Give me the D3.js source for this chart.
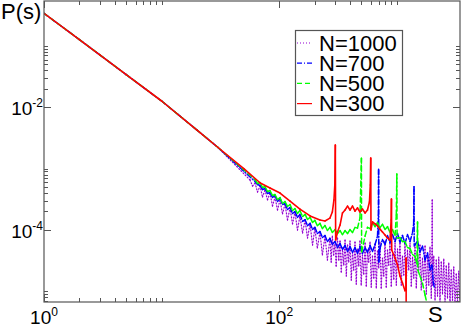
<!DOCTYPE html>
<html><head><meta charset="utf-8">
<script src="https://cdn.jsdelivr.net/npm/d3@7"></script>
<style>body{margin:0;background:#fff}svg{display:block}text{font-family:"Liberation Sans",Arial,Helvetica,sans-serif}</style>
</head><body><svg id="c" width="461" height="327"></svg>
<script>
// ---- data: [s, P(s)] ----
const head = [[1, 0.341], [2, 0.127], [3, 0.0711], [5, 0.0341], [10, 0.01267], [20, 4.25e-3], [30, 2.23e-3], [50, 1.0e-3]];

const tail300 = [[69, 5.82e-4], [83.5, 4.83e-4], [101.6, 4.0e-4], [123.6, 2.96e-4], [150, 2.19e-4], [183, 1.69e-4], [222, 1.45e-4], [245, 1.40e-4], [270, 1.56e-4], [283, 1.96e-4],
  [292, 3.08e-4], [297, 5.40e-4], [300, 2.43e-3], [302, 6.84e-5], [313, 9.24e-5], [329, 1.20e-4], [345, 1.89e-4], [363, 2.11e-4], [381, 2.45e-4], [400, 2.11e-4],
  [420, 2.45e-4], [441, 2.03e-4], [463, 2.28e-4], [486, 1.96e-4], [510, 2.19e-4], [537, 1.89e-4], [563, 2.11e-4], [585, 2.85e-4], [595, 5.40e-4], [600, 1.49e-3],
  [603, 9.96e-5], [621, 1.35e-4], [653, 1.25e-4], [685, 1.16e-4], [719, 1.03e-4], [755, 9.24e-5], [794, 8.26e-5], [833, 7.38e-5], [875, 6.84e-5], [895, 1.45e-4],
  [900, 3.19e-4], [905, 4.70e-5], [966, 3.48e-5], [1014, 2.67e-5], [1064, 1.77e-5], [1117, 1.36e-5], [1174, 1.02e-5], [1195, 1.05e-5], [1200, 3.48e-5], [1202, 1e-7]];

const tail500 = [[62.3, 6.64e-4], [65.4, 5.71e-4], [68.7, 5.93e-4], [72.1, 4.92e-4], [75.7, 5.10e-4], [79.5, 4.23e-4], [83.5, 4.39e-4], [87.7, 3.64e-4], [92.1, 3.78e-4], [96.7, 3.13e-4],
  [101.6, 3.37e-4], [106.7, 2.70e-4], [112, 2.91e-4], [117.6, 2.41e-4], [123.6, 2.60e-4], [129.8, 2.07e-4], [136, 2.23e-4], [143, 1.85e-4], [150, 2.07e-4], [158, 1.65e-4],
  [166, 1.79e-4], [174, 1.48e-4], [183, 1.60e-4], [192, 1.32e-4], [201, 1.43e-4], [211, 1.17e-4], [222, 1.28e-4], [233, 1.05e-4], [245, 1.18e-4], [257, 9.78e-5],
  [270, 1.10e-4], [283, 9.07e-5], [298, 1.01e-4], [313, 8.74e-5], [329, 9.73e-5], [345, 8.40e-5], [363, 9.73e-5], [381, 8.74e-5], [400, 1.01e-4], [420, 9.07e-5],
  [441, 1.10e-4], [463, 1.07e-4], [486, 1.56e-4], [500, 1.48e-3], [502, 4.36e-5], [537, 7.94e-5], [563, 1.10e-4], [592, 1.05e-4], [621, 1.32e-4], [653, 1.13e-4],
  [685, 1.32e-4], [719, 1.09e-4], [755, 1.23e-4], [794, 1.02e-4], [833, 1.13e-4], [875, 9.07e-5], [919, 1.01e-4], [966, 8.10e-5], [990, 1.75e-4], [1000, 8.17e-4],
  [1005, 7.38e-5], [1064, 7.50e-5], [1117, 6.46e-5], [1174, 6.46e-5], [1232, 5.16e-5], [1295, 4.97e-5], [1360, 3.97e-5], [1429, 3.70e-5], [1480, 2.78e-5], [1500, 1.35e-4],
  [1510, 2.22e-5], [1574, 1.77e-5], [1653, 1.36e-5], [1738, 8.67e-6], [1824, 5.74e-6]];

const tail700 = [[62.3, 6.16e-4], [65.4, 5.50e-4], [68.7, 5.30e-4], [72.1, 4.56e-4], [75.7, 4.73e-4], [79.5, 3.93e-4], [83.5, 4.07e-4], [87.7, 3.38e-4], [92.1, 3.64e-4], [96.7, 2.91e-4],
  [101.6, 3.25e-4], [106.7, 2.59e-4], [112, 2.69e-4], [117.6, 2.15e-4], [123.6, 2.32e-4], [129.8, 1.85e-4], [136, 1.99e-4], [143, 1.60e-4], [150, 1.79e-4], [158, 1.38e-4],
  [166, 1.47e-4], [174, 1.17e-4], [183, 1.28e-4], [192, 1.02e-4], [201, 1.10e-4], [211, 8.74e-5], [222, 9.41e-5], [233, 7.52e-5], [245, 8.10e-5], [257, 6.46e-5],
  [270, 7.24e-5], [283, 5.78e-5], [298, 6.46e-5], [313, 5.16e-5], [329, 6.00e-5], [345, 4.79e-5], [363, 5.57e-5], [381, 4.44e-5], [400, 5.36e-5], [420, 4.28e-5],
  [441, 5.16e-5], [463, 4.13e-5], [486, 5.36e-5], [510, 4.13e-5], [537, 5.16e-5], [563, 4.28e-5], [592, 5.57e-5], [621, 4.44e-5], [653, 5.77e-5], [685, 7.94e-5],
  [697, 1.75e-4], [700, 9.75e-4], [703, 2.99e-5], [719, 4.97e-5], [755, 6.97e-5], [794, 5.78e-5], [833, 8.10e-5], [875, 6.23e-5], [919, 8.40e-5], [966, 6.46e-5],
  [1014, 8.73e-5], [1064, 6.23e-5], [1117, 8.10e-5], [1174, 6.00e-5], [1232, 8.40e-5], [1295, 6.46e-5], [1360, 9.07e-5], [1390, 1.25e-4], [1400, 5.07e-4], [1405, 5.46e-5],
  [1500, 6.59e-5], [1574, 4.36e-5], [1653, 5.46e-5], [1738, 3.23e-5], [1824, 4.20e-5], [1915, 2.22e-5], [1990, 2.67e-5], [2043, 1.41e-5], [2084, 1.13e-5]];

const tail1000 = [[56.5, 6.52e-4], [59.3, 5.20e-4], [62.3, 5.82e-4], [65.4, 4.15e-4], [68.7, 5.20e-4], [72.1, 3.44e-4], [75.7, 4.48e-4], [79.5, 3.08e-4], [83.5, 4.0e-4], [87.7, 2.45e-4],
  [92.1, 3.44e-4], [96.7, 2.11e-4], [101.6, 3.08e-4], [106.7, 1.82e-4], [112, 2.65e-4], [117.6, 1.45e-4], [123.6, 2.28e-4], [129.8, 1.25e-4], [136, 1.96e-4], [143, 9.96e-5],
  [150, 1.69e-4], [158, 8.89e-5], [166, 1.45e-4], [174, 7.38e-5], [183, 1.25e-4], [192, 5.67e-5], [201, 1.07e-4], [211, 5.07e-5], [222, 9.24e-5], [233, 3.90e-5],
  [245, 7.94e-5], [257, 3.23e-5],
  [270, 7.38e-5], [276.7, 2.99e-5], [283, 7.95e-5], [290, 3.90e-5], [298, 5.89e-5], [305, 2.57e-5], [313, 7.38e-5], [321, 3.23e-5], [329, 6.59e-5], [337, 2.06e-5],
  [345, 5.07e-5], [354, 2.67e-5], [363, 6.84e-5], [372, 1.77e-5], [381, 5.67e-5], [390, 2.99e-5], [400, 6.59e-5], [410, 1.52e-5], [420, 4.36e-5], [430, 2.22e-5],
  [441, 6.35e-5], [452, 1.31e-5], [463, 4.88e-5], [475, 2.57e-5], [486, 6.59e-5], [498, 1.26e-5], [510, 3.90e-5], [523, 1.91e-5], [537, 6.11e-5], [550, 1.22e-5],
  [563, 4.70e-5], [577, 2.99e-5], [592, 6.35e-5], [606, 1.17e-5], [621, 3.75e-5], [637, 1.64e-5], [653, 5.89e-5], [669, 1.13e-5], [685, 4.53e-5], [702, 2.39e-5],
  [719, 6.35e-5], [737, 1.13e-5], [755, 3.48e-5], [774, 1.77e-5], [794, 6.59e-5], [813, 1.17e-5], [833, 4.70e-5], [854, 2.67e-5], [875, 6.84e-5], [897, 1.22e-5],
  [919, 4.05e-5], [942, 1.58e-5], [966, 6.11e-5], [990, 1.26e-5], [1014, 4.88e-5], [1039, 2.39e-5], [1064, 6.84e-5], [1091, 1.26e-5], [1117, 3.75e-5], [1145, 1.84e-5],
  [1174, 6.11e-5], [1203, 1.26e-5], [1232, 4.70e-5], [1263, 2.22e-5], [1295, 6.11e-5], [1327, 1.22e-5], [1360, 3.61e-5], [1394, 1.64e-5], [1429, 5.89e-5], [1464, 1.13e-5],
  [1500, 4.36e-5], [1537, 2.22e-5], [1574, 5.67e-5], [1613, 1.05e-5], [1653, 3.48e-5], [1695, 1.52e-5], [1738, 5.46e-5], [1781, 9.0e-6], [1824, 3.90e-5], [1870, 1.26e-5],
  [1915, 5.26e-5], [1963, 7.74e-6], [1985, 3.48e-5], [2000, 3.08e-4], [2011, 1.26e-5], [2061, 3.75e-5], [2113, 7.18e-6], [2165, 3.23e-5], [2218, 8.35e-6], [2273, 3.61e-5],
  [2329, 6.67e-6], [2387, 2.99e-5], [2446, 9.0e-6], [2507, 3.35e-5], [2570, 6.42e-6], [2633, 2.57e-5], [2698, 7.74e-6], [2765, 2.88e-5], [2833, 6.18e-6], [2904, 2.22e-5],
  [2975, 7.18e-6], [3049, 2.48e-5], [3125, 5.96e-6], [3202, 1.91e-5], [3281, 6.92e-6], [3362, 2.13e-5], [3445, 5.74e-6]];

const seriesNames = ["N=1000", "N=700", "N=500", "N=300"];
const xMajor = [1, 100];
const xMinor = [2, 3, 4, 5, 6, 7, 8, 9, 10, 200, 300, 400, 500, 600, 700, 800, 900, 1000];
const yMajor = [1e-2, 1e-4];
const yMinor = [2e-2, 3e-2, 4e-2, 5e-2, 6e-2, 7e-2, 8e-2, 9e-2, 1e-1, 2e-4, 3e-4, 4e-4, 5e-4, 6e-4, 7e-4, 8e-4, 9e-4, 1e-3, 7e-6, 8e-6, 9e-6, 1e-5];
const xLabelExp = ["0", "2"];
const yLabelExp = ["-2", "-4"];

// ---- chart ----
const svg = d3.select("#c");
const L = 44, R = 460, T = 1, B = 302;
const x = d3.scaleLog().domain([1, 3445]).range([L, R]);
const y = d3.scaleLog().domain([6.67e-6, 0.542]).range([B, T]);

const toPts = (h, t) => h.concat(t).map(d => ({s: d[0], p: d[1]}));
const series = [
  {name: seriesNames[0], data: toPts(head.slice(0, 7), tail1000), color: "#9400d3", dash: "1,2", w: 1.2},
  {name: seriesNames[1], data: toPts(head.slice(0, 7), tail700), color: "#0000ff", dash: "5,2,1,2", w: 1.5},
  {name: seriesNames[2], data: toPts(head.slice(0, 7), tail500), color: "#00ff00", dash: "5,3", w: 1.5},
  {name: seriesNames[3], data: toPts(head, tail300), color: "#ff0000", dash: null, w: 1.6}
];

svg.append("defs").append("clipPath").attr("id", "clip")
  .append("rect").attr("x", L).attr("y", T).attr("width", R - L).attr("height", B - T);

const py = d => y(Math.max(d.p, 1e-9));
const g = svg.append("g").attr("clip-path", "url(#clip)");
series.forEach(sr => {
  // each segment drawn separately so the dash pattern restarts per segment
  g.append("g").selectAll("line").data(d3.pairs(sr.data)).join("line")
    .attr("x1", d => x(d[0].s)).attr("y1", d => py(d[0]))
    .attr("x2", d => x(d[1].s)).attr("y2", d => py(d[1]))
    .attr("stroke", sr.color).attr("stroke-width", sr.w)
    .attr("stroke-linecap", "round").attr("stroke-dasharray", sr.dash);
});

// frame
svg.append("rect").attr("x", L).attr("y", T).attr("width", R - L).attr("height", B - T)
  .attr("fill", "none").attr("stroke", "#555").attr("stroke-width", 1.2);

// ticks (inward, all sides)
const tk = svg.append("g").attr("stroke", "#555").attr("stroke-width", 1);
const tickX = (vals, len) => vals.forEach(v => {
  const px = Math.round(x(v)) + 0.5;
  tk.append("line").attr("x1", px).attr("x2", px).attr("y1", B).attr("y2", B - len);
  tk.append("line").attr("x1", px).attr("x2", px).attr("y1", T).attr("y2", T + len);
});
const tickY = (vals, len) => vals.forEach(v => {
  const yy = Math.round(y(v)) + 0.5;
  tk.append("line").attr("y1", yy).attr("y2", yy).attr("x1", L).attr("x2", L + len);
  tk.append("line").attr("y1", yy).attr("y2", yy).attr("x1", R).attr("x2", R - len);
});
tickX(xMajor, 7); tickX(xMinor, 4);
tickY(yMajor, 7); tickY(yMinor, 4);

// tick labels
xMajor.forEach((v, i) => {
  const t = svg.append("text").attr("x", x(v)).attr("y", 324).attr("text-anchor", "middle").attr("font-size", 19);
  t.append("tspan").text("10");
  t.append("tspan").attr("dy", -8).attr("font-size", 12).text(xLabelExp[i]);
});
yMajor.forEach((v, i) => {
  const t = svg.append("text").attr("x", 43).attr("y", y(v) + 8).attr("text-anchor", "end").attr("font-size", 19);
  t.append("tspan").text("10");
  t.append("tspan").attr("dy", -8).attr("font-size", 12).text(yLabelExp[i]);
});

// axis titles
svg.append("text").attr("x", 1).attr("y", 19).attr("font-size", 22).text("P(s)");
svg.append("text").attr("x", 428).attr("y", 322).attr("font-size", 22).text("S");

// legend
const lg = svg.append("g");
lg.append("rect").attr("x", 295.5).attr("y", 30.5).attr("width", 107).attr("height", 85)
  .attr("fill", "#fff").attr("stroke", "#555").attr("stroke-width", 1.2);
series.forEach((sr, i) => {
  const yy = 43 + i * 20.2;
  lg.append("line").attr("x1", 297).attr("x2", 312).attr("y1", yy).attr("y2", yy)
    .attr("stroke", sr.color).attr("stroke-width", 1.2).attr("stroke-dasharray", sr.dash);
  lg.append("text").attr("x", 319).attr("y", yy + 7.5).attr("font-size", 22).text(sr.name);
});
</script>
</body></html>
